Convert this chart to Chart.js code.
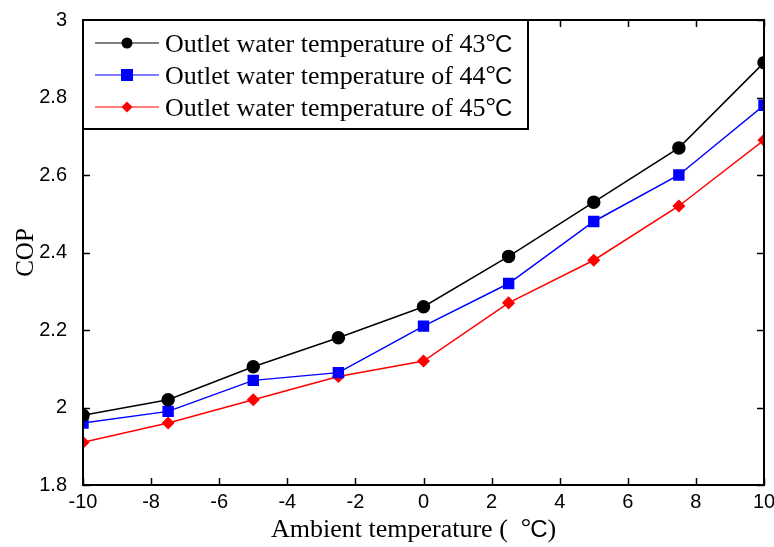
<!DOCTYPE html>
<html>
<head>
<meta charset="utf-8">
<script src="https://cdn.jsdelivr.net/npm/chart.js@4"></script>
<style>
  html, body { margin: 0; padding: 0; background: #fff; }
  #wrap { width: 774px; height: 547px; }
</style>
</head>
<body>
<div id="wrap"><canvas id="copChart" width="774" height="547"></canvas></div>
<script>
// ambient temperatures (deg C)
const ambientTemps = [-10, -7.5, -5, -2.5, 0, 2.5, 5, 7.5, 10];

// COP
const cop43 = [1.98, 2.02, 2.105, 2.18, 2.26, 2.39, 2.53, 2.67, 2.89];
const cop44 = [1.96, 1.99, 2.07, 2.09, 2.21, 2.32, 2.48, 2.60, 2.78];
const cop45 = [1.91, 1.96, 2.02, 2.08, 2.12, 2.27, 2.38, 2.52, 2.69];

const seriesLabels = [
    'Outlet water temperature of 43\u00b0C',
    'Outlet water temperature of 44\u00b0C',
    'Outlet water temperature of 45\u00b0C'
];
const xTitle = 'Ambient temperature (  \u00b0C)';
const yTitle = 'COP';

const xTicks = [-10, -8, -6, -4, -2, 0, 2, 4, 6, 8, 10];
const yTicks = [1.8, 2, 2.2, 2.4, 2.6, 2.8, 3];

const SERIF = '"Liberation Serif", "Times New Roman", serif';
const SANS = '"Liberation Sans", Arial, sans-serif';

const toPoints = vals => ambientTemps.map((t, i) => ({ x: t, y: vals[i] }));

// draws "text °C" with a serif body, raised degree sign and sans C
function drawDegText(ctx, text, x, y, size) {
    const parts = text.split('\u00b0');
    ctx.textBaseline = 'alphabetic';
    ctx.textAlign = 'left';
    ctx.font = size + 'px ' + SERIF;
    ctx.fillText(parts[0], x, y);
    x += ctx.measureText(parts[0]).width;
    ctx.fillText('\u00b0', x, y - size * 0.06);
    x += ctx.measureText('\u00b0').width - 1;
    ctx.font = Math.round(size * 0.92) + 'px ' + SANS;
    ctx.fillText('C', x, y);
    x += ctx.measureText('C').width;
    if (parts[1].length > 1) {
        ctx.font = size + 'px ' + SERIF;
        ctx.fillText(parts[1].slice(1), x, y);
    }
}

// frame, inward ticks, titles and the boxed legend
const framePlugin = {
    id: 'frame',
    afterDraw(chart) {
        const { ctx, chartArea: a, scales } = chart;
        ctx.save();
        ctx.strokeStyle = '#000';
        ctx.lineWidth = 2;
        ctx.strokeRect(a.left, a.top, a.right - a.left, a.bottom - a.top);

        ctx.lineWidth = 1.5;
        ctx.beginPath();
        xTicks.forEach(v => {
            const px = Math.round(scales.x.getPixelForValue(v)) + 0.5;
            ctx.moveTo(px, a.bottom); ctx.lineTo(px, a.bottom - 7);
            ctx.moveTo(px, a.top); ctx.lineTo(px, a.top + 7);
        });
        yTicks.forEach(v => {
            const py = Math.round(scales.y.getPixelForValue(v)) + 0.5;
            ctx.moveTo(a.left, py); ctx.lineTo(a.left + 7, py);
            ctx.moveTo(a.right, py); ctx.lineTo(a.right - 7, py);
        });
        ctx.stroke();

        // axis titles
        ctx.fillStyle = '#000';
        drawDegText(ctx, xTitle, 271, 537, 26);
        ctx.save();
        ctx.translate(33, (a.top + a.bottom) / 2);
        ctx.rotate(-Math.PI / 2);
        ctx.font = '25px ' + SERIF;
        ctx.textAlign = 'center';
        ctx.textBaseline = 'alphabetic';
        ctx.fillText(yTitle, 0, 0);
        ctx.restore();

        // legend box
        const lx = a.left, ly = a.top, lw = 445, lh = 109;
        ctx.fillStyle = '#fff';
        ctx.fillRect(lx, ly, lw, lh);
        ctx.lineWidth = 2;
        ctx.strokeRect(lx, ly, lw, lh);

        chart.data.datasets.forEach((ds, i) => {
            const y = ly + 23 + i * 32;
            ctx.strokeStyle = ds.borderColor;
            ctx.lineWidth = 1.2;
            ctx.beginPath();
            ctx.moveTo(lx + 12, y); ctx.lineTo(lx + 76, y);
            ctx.stroke();
            ctx.fillStyle = ds.pointBackgroundColor;
            const cx = lx + 44;
            if (ds.pointStyle === 'circle') {
                ctx.beginPath(); ctx.arc(cx, y, 5.5, 0, Math.PI * 2); ctx.fill();
            } else if (ds.pointStyle === 'rect') {
                ctx.fillRect(cx - 6, y - 6, 12, 12);
            } else {
                ctx.beginPath();
                ctx.moveTo(cx, y - 5.5); ctx.lineTo(cx + 5.5, y);
                ctx.lineTo(cx, y + 5.5); ctx.lineTo(cx - 5.5, y);
                ctx.closePath(); ctx.fill();
            }
            ctx.fillStyle = '#000';
            drawDegText(ctx, ds.label, lx + 82, y + 9, 26);
        });
        ctx.restore();
    }
};

const chart = new Chart(document.getElementById('copChart'), {
    type: 'line',
    data: {
        datasets: [
            {
                label: seriesLabels[0],
                data: toPoints(cop43),
                borderColor: '#000000',
                pointBackgroundColor: '#000000',
                pointBorderColor: '#000000',
                pointStyle: 'circle',
                pointRadius: 6,
                borderWidth: 1.5
            },
            {
                label: seriesLabels[1],
                data: toPoints(cop44),
                borderColor: '#0000ff',
                pointBackgroundColor: '#0000ff',
                pointBorderColor: '#0000ff',
                pointStyle: 'rect',
                pointRadius: 7,
                borderWidth: 1.5
            },
            {
                label: seriesLabels[2],
                data: toPoints(cop45),
                borderColor: '#ff0000',
                pointBackgroundColor: '#ff0000',
                pointBorderColor: '#ff0000',
                pointStyle: 'rectRot',
                pointRadius: 5.5,
                borderWidth: 1.5
            }
        ]
    },
    options: {
        responsive: false,
        animation: false,
        layout: { padding: { top: 20, right: 10, left: 0, bottom: 0 } },
        plugins: {
            legend: { display: false },
            tooltip: { enabled: false }
        },
        scales: {
            x: {
                type: 'linear',
                min: -10,
                max: 10,
                grid: { display: false },
                border: { display: false },
                afterBuildTicks: s => { s.ticks = xTicks.map(v => ({ value: v })); },
                afterFit: s => { s.height = 62; },
                ticks: {
                    color: '#000',
                    padding: -3,
                    maxRotation: 0,
                    font: { family: SANS, size: 20 },
                    callback: v => String(v)
                }
            },
            y: {
                min: 1.8,
                max: 3,
                grid: { display: false },
                border: { display: false },
                afterBuildTicks: s => { s.ticks = yTicks.map(v => ({ value: v })); },
                afterFit: s => { s.width = 83; },
                ticks: {
                    color: '#000',
                    padding: 8,
                    font: { family: SANS, size: 20 },
                    callback: v => String(Math.round(v * 10) / 10)
                }
            }
        }
    },
    plugins: [framePlugin]
});
</script>
</body>
</html>
